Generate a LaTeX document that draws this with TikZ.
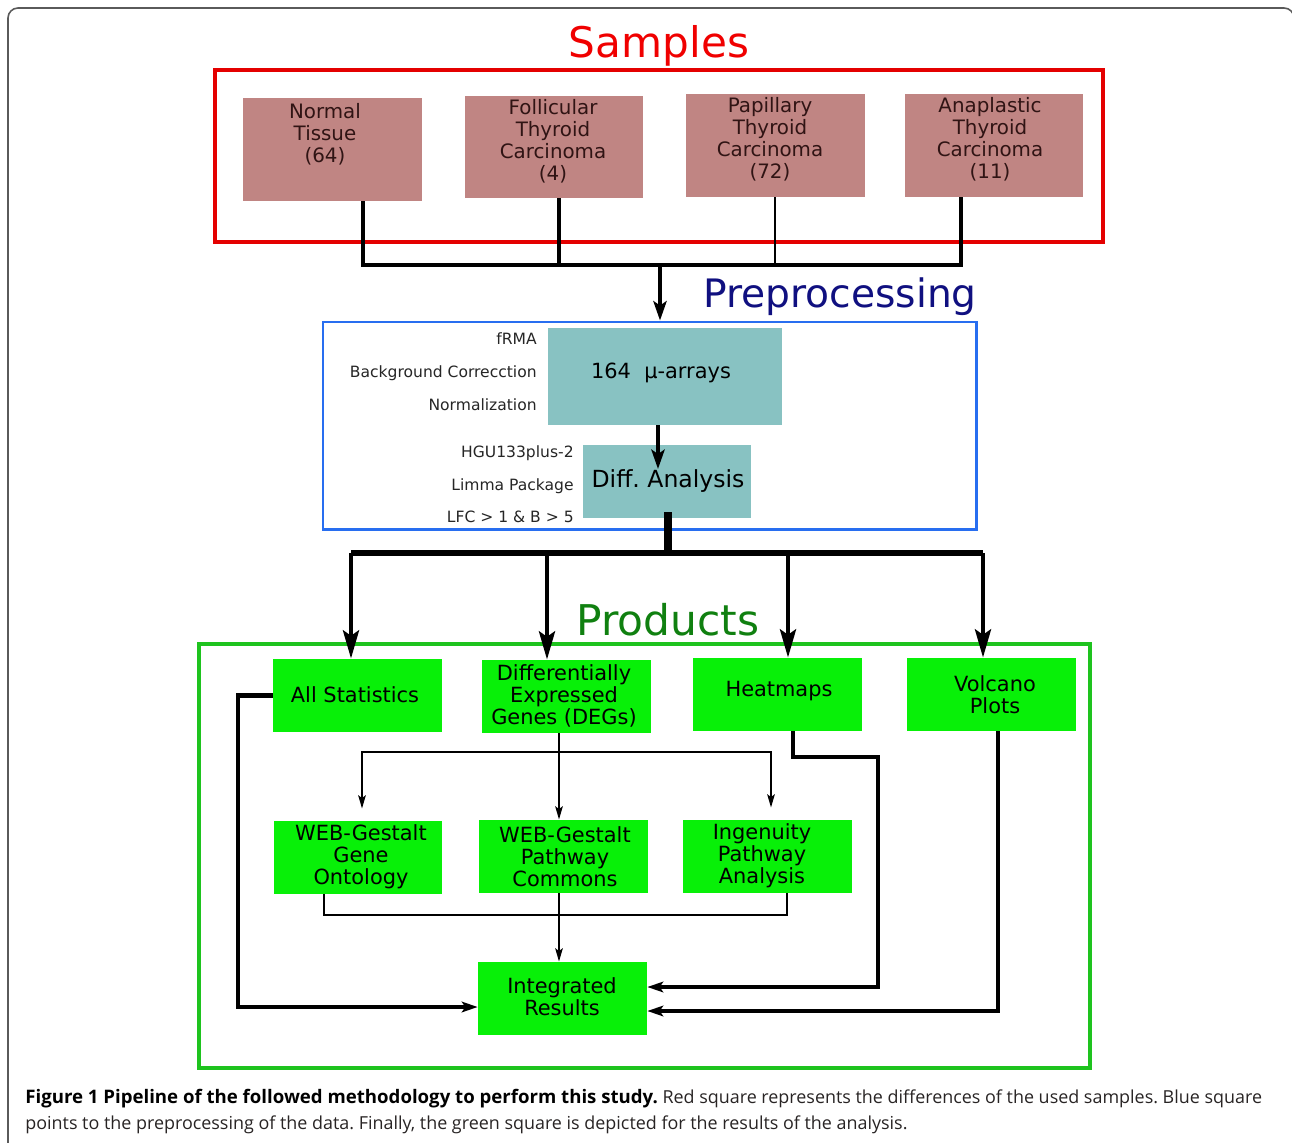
\documentclass[tikz,border=0pt]{standalone}
\usepackage{fontspec}
\setmainfont{DejaVu Sans}
\newfontfamily\capfont{Open Sans}
\usetikzlibrary{arrows.meta,fit,calc}

\definecolor{sampfill}{RGB}{192,133,131}
\definecolor{samptext}{RGB}{48,20,20}
\definecolor{tealfill}{RGB}{136,194,194}
\definecolor{prodfill}{RGB}{8,240,8}
\definecolor{redline}{RGB}{228,0,0}
\definecolor{redtitle}{RGB}{240,0,0}
\definecolor{blueline}{RGB}{40,110,240}
\definecolor{navytitle}{RGB}{16,16,128}
\definecolor{greenline}{RGB}{30,195,30}
\definecolor{greentitle}{RGB}{16,128,16}
\definecolor{framegray}{RGB}{90,90,90}
\definecolor{captext}{RGB}{40,36,36}

\tikzset{
  region/.style={draw, inner sep=0pt, fill=none},
  sampbox/.style={fill=sampfill, inner sep=0pt},
  tealbox/.style={fill=tealfill, inner sep=0pt},
  prodbox/.style={fill=prodfill, inner sep=0pt},
  prodtxt/.style={align=center, inner sep=0pt,
    font=\fontsize{11.9pt}{12.5pt}\selectfont},
  samptxt/.style={align=center, text=samptext, inner sep=0pt,
    font=\fontsize{11.3pt}{12.5pt}\selectfont},
  steplabel/.style={anchor=base east, inner sep=0pt, text=black!85,
    font=\fontsize{8.85pt}{10pt}\selectfont},
  title/.style={anchor=base, inner sep=0pt},
  w2/.style={line width=1.1pt},
  w25/.style={line width=1.4pt},
  w4/.style={line width=2.3pt},
  w5/.style={line width=2.8pt},
  w6/.style={line width=3.4pt},
  w7/.style={line width=4pt},
  bigtip/.style={-{Stealth[length=16pt,width=9pt,inset=3pt]}},
  medtip/.style={-{Stealth[length=11pt,width=7.5pt,inset=2.5pt]}},
  irtip/.style={-{Stealth[length=9pt,width=6pt,inset=2pt]}},
  smalltip/.style={-{Stealth[length=7.5pt,width=4.2pt,inset=1.5pt]}},
}

\begin{document}
\frenchspacing
\begin{tikzpicture}[x=0.02cm,y=-0.02cm]
\useasboundingbox (0,0) rectangle (1292,1143);
\fill[white] (0,0) rectangle (1292,1143);

% page frame
\draw[framegray, line width=0.9pt, rounded corners=0.2cm]
  (8,1160) -- (8,8) -- (1294,8) -- (1294,1160);

% ---------- Samples ----------
\node[title, text=redtitle, font=\fontsize{24pt}{27pt}\selectfont] (tsamp) at (659,57) {Samples};
\node[region, draw=redline, line width=2.3pt, fit={(215,70) (1103,242)}] (sampreg) {};

\node[sampbox, fit={(243,98) (422,201)}] (nt) {};
\node[sampbox, fit={(465,96) (643,198)}] (ft) {};
\node[sampbox, fit={(686,94) (865,197)}] (pt) {};
\node[sampbox, fit={(905,94) (1083,197)}] (at) {};

\node[samptxt] (ntT) at (325,134) {Normal\\Tissue\\(64)};
\node[samptxt] (ftT) at (553,141) {Follicular\\Thyroid\\Carcinoma\\(4)};
\node[samptxt] (ptT) at (770,139) {Papillary\\Thyroid\\Carcinoma\\(72)};
\node[samptxt] (atT) at (990,139) {Anaplastic\\Thyroid\\Carcinoma\\(11)};

\coordinate (sbus) at (660,265);
\draw[w4] (nt.south -| 363,0) -- (363,265) -- (961,265) -- (at.south -| 961,0);
\draw[w5] (ft.south -| 559,0) -- (559,265);
\draw[w2] (pt.south -| 775,0) -- (775,265);

% ---------- Preprocessing ----------
\node[title, text=navytitle, font=\fontsize{22.3pt}{25pt}\selectfont] (tpre) at (840,307) {Preprocessing};
\node[region, draw=blueline, line width=1.7pt, fit={(323,322) (976,529)}] (prereg) {};
\draw[w5, medtip] (sbus) -- (prereg.north -| sbus);

\node[tealbox, fit={(548,328) (782,425)}] (arr) {};
\node[inner sep=0pt, anchor=base, font=\fontsize{11.9pt}{14pt}\selectfont] (arrT) at (661,378) {164\ \ µ-arrays};
\node[tealbox, fit={(583,445) (751,518)}] (diff) {};
\node[inner sep=0pt, anchor=base, font=\fontsize{13.4pt}{16pt}\selectfont] (diffT) at (668,487) {Diff. Analysis};

\node[steplabel] (l1) at (537,344) {fRMA};
\node[steplabel] (l2) at (537,377) {Background Correcction};
\node[steplabel] (l3) at (537,410) {Normalization};
\node[steplabel] (l4) at (574,457) {HGU133plus-2};
\node[steplabel] (l5) at (574,490) {Limma Package};
\node[steplabel] (l6) at (574,522) {LFC > 1 \& B > 5};

\coordinate (dtip) at (658,469);
\draw[w4, medtip] (arr.south -| 658,0) -- (dtip);

% ---------- Products ----------
\node[title, text=greentitle, font=\fontsize{24.1pt}{27pt}\selectfont] (tprod) at (668,635) {Products};
\node[region, draw=greenline, line width=2.3pt, fit={(199,644) (1090,1068)}] (prodreg) {};

\node[prodbox, fit={(273,659) (442,732)}] (stats) {};
\node[prodbox, fit={(482,660) (651,733)}] (deg) {};
\node[prodbox, fit={(693,658) (862,731)}] (heat) {};
\node[prodbox, fit={(907,658) (1076,731)}] (volc) {};
\node[prodbox, fit={(274,821) (442,894)}] (go) {};
\node[prodbox, fit={(479,820) (648,893)}] (pc) {};
\node[prodbox, fit={(683,820) (852,893)}] (ipa) {};
\node[prodbox, fit={(478,962) (647,1035)}] (ir) {};

\node[prodtxt] (statsT) at (355,695) {All Statistics};
\node[prodtxt] (degT) at (564,696) {Differentially\\Expressed\\Genes (DEGs)};
\node[prodtxt] (heatT) at (779,691) {Heatmaps};
\node[prodtxt] (volcT) at (995,695) {Volcano\\Plots};
\node[prodtxt] (goT) at (361,857) {WEB-Gestalt\\Gene\\Ontology};
\node[prodtxt] (pcT) at (565,857) {WEB-Gestalt\\Pathway\\Commons};
\node[prodtxt] (ipaT) at (762,856) {Ingenuity\\Pathway\\Analysis};
\node[prodtxt] (irT) at (562,997) {Integrated\\Results};

% fan-out from the differential analysis
\coordinate (pbus) at (668,553);
\draw[w7] (668,512) -- (pbus);
\draw[w6] (351,553) -- (983,553);
\draw[w5, bigtip] (351,553) -- (stats.north -| 351,0);
\draw[w5, bigtip] (547,553) -- (deg.north -| 547,0);
\draw[w5, bigtip] (788,553) -- (heat.north -| 788,0);
\draw[w5, bigtip] (983,553) -- (volc.north -| 983,0);

% enrichment analyses from the DEGs
\coordinate (dbr) at (559,752);
\draw[w25, smalltip] (deg.south -| 559,0) -- (pc.north -| 559,0);
\draw[w25, smalltip, shorten >=0.24cm] (dbr) -| (go.north -| 362,0);
\draw[w25, smalltip, shorten >=0.24cm] (dbr) -| (ipa.north -| 771,0);

% merge into the integrated results
\draw[w2] (go.south -| 324,0) -- (324,915) -- (787,915) -- (ipa.south -| 787,0);
\draw[w25, smalltip] (pc.south -| 559,0) -- (ir.north -| 559,0);
\draw[w4, irtip] (stats.west) -| (238,1007) -- (ir.west |- 0,1007);
\draw[w4, irtip] (heat.south -| 793,0) -- (793,757) -- (878,757) -- (878,987) -- (ir.east |- 0,987);
\draw[w4, irtip] (volc.south -| 998,0) |- (ir.east |- 0,1011);

% ---------- caption ----------
\node[anchor=base west, inner sep=0pt, text=captext,
      font=\capfont\fontsize{10.2pt}{12pt}\selectfont] (cap1) at (25,1103)
  {{\fontsize{10.6pt}{12pt}\selectfont\bfseries\color{black}Figure 1 Pipeline of the followed methodology to perform this study.} Red square represents the differences of the used samples. Blue square};
\node[anchor=base west, inner sep=0pt, text=captext,
      font=\capfont\fontsize{10.2pt}{12pt}\selectfont] (cap2) at (25,1129)
  {points to the preprocessing of the data. Finally, the green square is depicted for the results of the analysis.};
\end{tikzpicture}
\end{document}
